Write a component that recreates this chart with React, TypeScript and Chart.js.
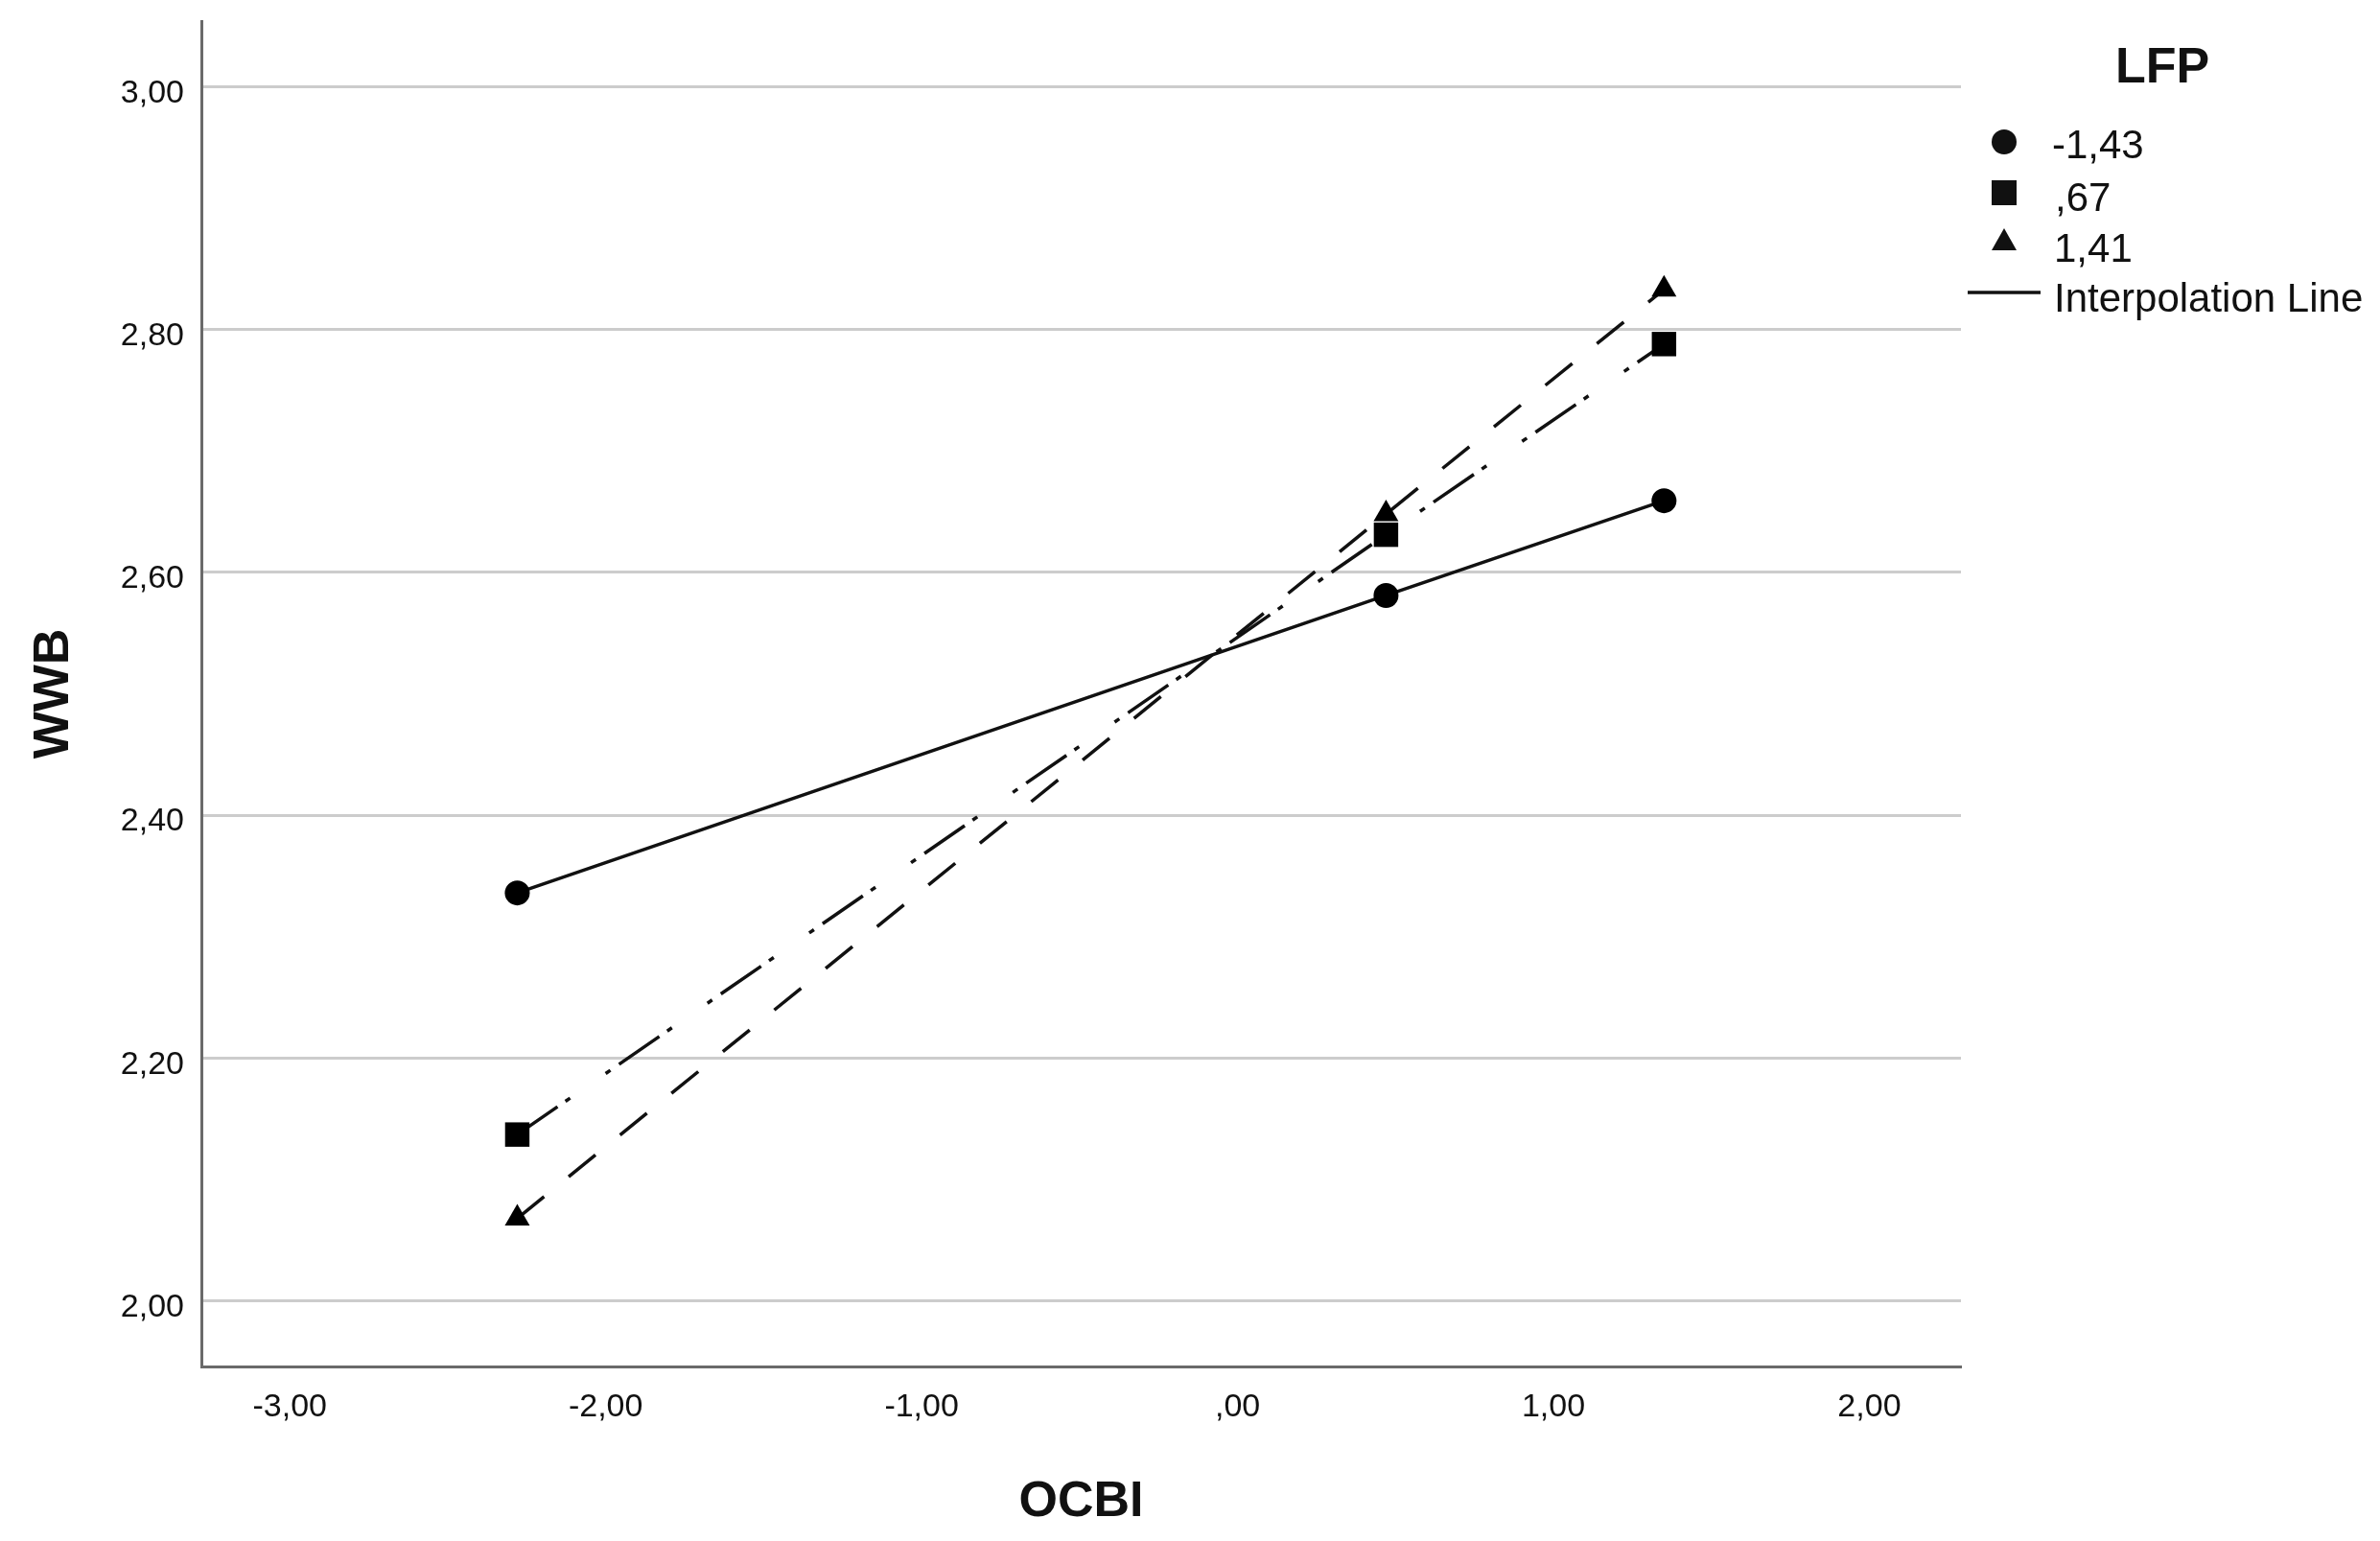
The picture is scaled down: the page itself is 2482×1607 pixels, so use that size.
import { useEffect, useRef } from 'react';
import { Chart, registerables } from 'chart.js';

Chart.register(...registerables);

// OCBI values at which the simple slopes were evaluated
const ocbiValues = [-2.28, 0.47, 1.35];

// LFP moderator levels (legend) and the predicted WWB for each
const lfpLevels = ['-1,43', ',67', '1,41'];
const wwbLow = [2.336, 2.581, 2.659];
const wwbMid = [2.137, 2.631, 2.788];
const wwbHigh = [2.068, 2.648, 2.833];

const xTicks = [-3, -2, -1, 0, 1, 2];
const xTickLabels = ['-3,00', '-2,00', '-1,00', ',00', '1,00', '2,00'];
const yTicks = [2.0, 2.2, 2.4, 2.6, 2.8, 3.0];
const yTickLabels = ['2,00', '2,20', '2,40', '2,60', '2,80', '3,00'];

const FONT = "'Liberation Sans', Arial, sans-serif";
const INK = '#111111';

const legendPlugin = {
  id: 'spssLegend',
  afterDraw(chart: Chart) {
    const ctx = chart.ctx;
    ctx.save();
    ctx.fillStyle = INK;
    ctx.strokeStyle = INK;

    ctx.font = `bold 52px ${FONT}`;
    ctx.textAlign = 'center';
    ctx.textBaseline = 'middle';
    ctx.fillText('LFP', 2255, 72);

    const mx = 2090;
    // circle
    ctx.beginPath();
    ctx.arc(mx, 148, 13, 0, Math.PI * 2);
    ctx.fill();
    // square
    ctx.fillRect(mx - 13, 188, 26, 26);
    // triangle
    ctx.beginPath();
    ctx.moveTo(mx, 238);
    ctx.lineTo(mx + 13, 261);
    ctx.lineTo(mx - 13, 261);
    ctx.closePath();
    ctx.fill();
    // interpolation line
    ctx.lineWidth = 3.5;
    ctx.beginPath();
    ctx.moveTo(2052, 305);
    ctx.lineTo(2128, 305);
    ctx.stroke();

    ctx.font = `42px ${FONT}`;
    ctx.textAlign = 'left';
    ctx.textBaseline = 'alphabetic';
    ctx.fillText(lfpLevels[0], 2140, 165);
    ctx.fillText(lfpLevels[1], 2143, 220);
    ctx.fillText(lfpLevels[2], 2142, 273);
    ctx.fillText('Interpolation Line', 2142, 325);
    ctx.restore();
  },
};

export default function App() {
  const chartRef = useRef<HTMLCanvasElement>(null);
  const chartInstanceRef = useRef<Chart | null>(null);

  useEffect(() => {
    document.body.style.margin = '0';
    if (!chartRef.current) return;
    const ctx = chartRef.current.getContext('2d');
    if (!ctx) return;
    if (chartInstanceRef.current) chartInstanceRef.current.destroy();

    const toPoints = (ys: number[]) => ocbiValues.map((x, i) => ({ x, y: ys[i] }));

    chartInstanceRef.current = new Chart(ctx, {
      type: 'line',
      data: {
        datasets: [
          {
            label: lfpLevels[0],
            data: toPoints(wwbLow),
            borderColor: INK,
            borderWidth: 3.5,
            pointStyle: 'circle',
            pointRadius: 13,
            pointBackgroundColor: '#000',
            pointBorderColor: '#000',
            pointBorderWidth: 0,
          },
          {
            label: lfpLevels[1],
            data: toPoints(wwbMid),
            borderColor: INK,
            borderWidth: 3.5,
            borderDash: [51, 10, 6, 45, 6, 11],
            pointStyle: 'rect',
            pointRadius: 18,
            pointBackgroundColor: '#000',
            pointBorderColor: '#000',
            pointBorderWidth: 0,
          },
          {
            label: lfpLevels[2],
            data: toPoints(wwbHigh),
            borderColor: INK,
            borderWidth: 3.5,
            borderDash: [36, 33],
            pointStyle: 'triangle',
            pointRadius: 15,
            pointBackgroundColor: '#000',
            pointBorderColor: '#000',
            pointBorderWidth: 0,
          },
        ],
      },
      options: {
        animation: false,
        responsive: true,
        maintainAspectRatio: false,
        layout: { autoPadding: false, padding: { left: 0, top: 22, right: 437, bottom: 0 } },
        plugins: {
          legend: { display: false },
          tooltip: { enabled: false },
        },
        scales: {
          x: {
            type: 'linear',
            min: -3.28,
            max: 2.29,
            afterBuildTicks: (scale: any) => {
              scale.ticks = xTicks.map(v => ({ value: v }));
            },
            afterFit: (scale: any) => {
              scale.height = 182;
              scale.paddingLeft = 0;
              scale.paddingRight = 0;
            },
            grid: { display: false, drawTicks: false },
            border: { display: true, color: '#6a6a6a', width: 3 },
            ticks: {
              autoSkip: false,
              maxRotation: 0,
              padding: 22,
              color: INK,
              font: { family: FONT, size: 34 },
              callback: (value: any) => xTickLabels[xTicks.indexOf(Number(value))] ?? '',
            },
            title: {
              display: true,
              text: 'OCBI',
              color: INK,
              font: { family: FONT, size: 52, weight: 'bold' },
              padding: { top: 0, bottom: 9 },
            },
          },
          y: {
            type: 'linear',
            min: 1.946,
            max: 3.054,
            afterBuildTicks: (scale: any) => {
              scale.ticks = yTicks.map(v => ({ value: v }));
            },
            afterFit: (scale: any) => {
              scale.width = 210;
              scale.paddingTop = 0;
              scale.paddingBottom = 0;
            },
            grid: { color: '#cccccc', lineWidth: 3, drawTicks: false },
            border: { display: true, color: '#6a6a6a', width: 3 },
            ticks: {
              autoSkip: false,
              padding: 18,
              labelOffset: 7,
              color: INK,
              font: { family: FONT, size: 34 },
              callback: (value: any) => {
                const i = yTicks.findIndex(t => Math.abs(t - Number(value)) < 1e-6);
                return i >= 0 ? yTickLabels[i] : '';
              },
            },
            title: {
              display: true,
              text: 'WWB',
              color: INK,
              font: { family: FONT, size: 52, weight: 'bold' },
              padding: { top: 25, bottom: 0 },
            },
          },
        },
      },
      plugins: [legendPlugin],
    });

    return () => {
      if (chartInstanceRef.current) {
        chartInstanceRef.current.destroy();
        chartInstanceRef.current = null;
      }
    };
  }, []);

  return (
    <div style={{ position: 'fixed', left: 0, top: 0, width: 2482, height: 1607, background: '#fff' }}>
      <canvas ref={chartRef} />
    </div>
  );
}
